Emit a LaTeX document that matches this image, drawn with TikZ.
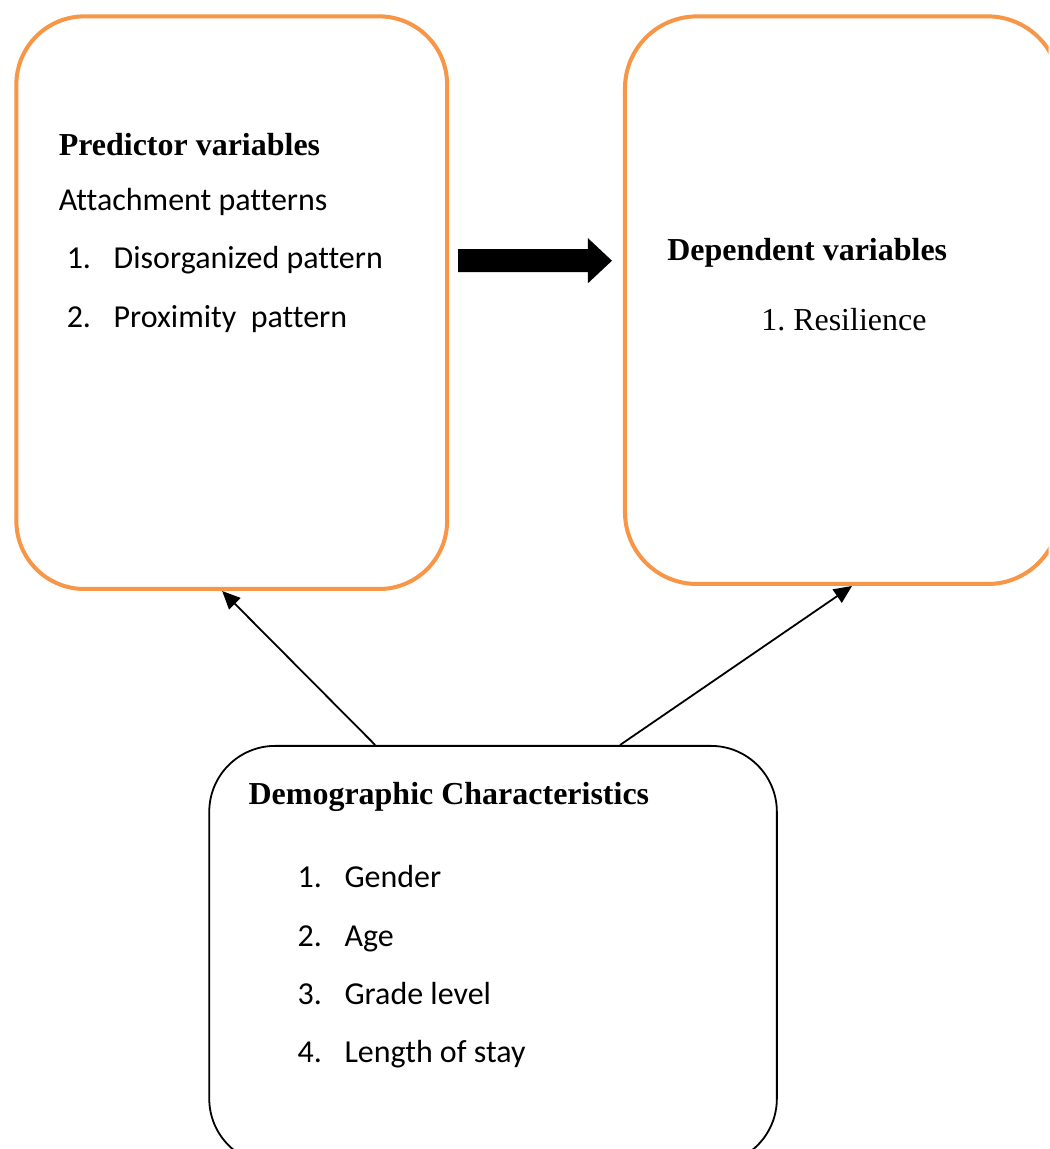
\documentclass[tikz,border=0pt]{standalone}
\usepackage{fontspec}
\usepackage{xcolor}
\setmainfont{Liberation Serif}
\newfontfamily\calibrifont[Ligatures=NoCommon]{Carlito}
\usetikzlibrary{calc,arrows.meta}
\definecolor{boxorange}{HTML}{F79646}
\tikzset{
  orangebox/.style={draw=boxorange, line width=2pt, rounded corners=34pt, inner sep=0pt},
  blackbox/.style={draw=black, line width=0.9pt, rounded corners=33pt, inner sep=0pt},
  headtext/.style={anchor=base west, inner sep=0pt, font=\fontsize{16}{19.2}\selectfont\bfseries},
  itemtext/.style={anchor=base west, inner sep=0pt, font=\fontsize{16}{19.2}\selectfont\calibrifont},
  linkarrow/.style={draw=black, line width=0.9pt, -{Triangle[length=9pt,width=8pt]}}
}
\newcommand{\listnum}[1]{\makebox[23.5pt][l]{#1}}
\frenchspacing
\begin{document}
\begin{tikzpicture}[scale=1.000000,x=0.5pt,y=-0.5pt]
\filldraw[color=white] (0.000000, 0.000000) rectangle (1049.000000, 1149.000000);
\useasboundingbox (0.000000, 0.000000) rectangle (1049.000000, 1149.000000);
\begin{scope}
\clip (0.000000, 0.000000) rectangle (1049.000000, 1149.000000);
% Drawing boxes
% Box 1: predictor variables
\node[orangebox, minimum width=215.5pt, minimum height=286.5pt] (pred) at (231.500000, 302.500000) {};
% Box 2: dependent variables
\node[orangebox, rounded corners=36pt, minimum width=217.5pt, minimum height=284pt] (dep) at (842.500000, 300.000000) {};
% Box 3: demographic characteristics
\node[blackbox, minimum width=284pt, minimum height=209.5pt] (demo) at (493.000000, 955.500000) {};
\end{scope}
% Done with boxes; drawing texts
\node[headtext] (predhead) at (58.000000, 155.000000) {Predictor variables};
\node[itemtext] (predsub) at (58.000000, 210.000000) {Attachment patterns};
\node[itemtext] (predone) at (66.000000, 268.000000) {\listnum{1.}Disorganized pattern};
\node[itemtext] (predtwo) at (66.000000, 327.000000) {\listnum{2.}Proximity\ \ pattern};
\node[headtext] (dephead) at (667.000000, 260.000000) {Dependent variables};
\node[headtext, font=\fontsize{16}{19.2}\selectfont] (depone) at (761.000000, 330.000000) {1. Resilience};
\node[headtext] (demohead) at (248.000000, 805.000000) {Demographic Characteristics};
\node[itemtext] (demoone) at (297.000000, 888.000000) {\listnum{1.}Gender};
\node[itemtext] (demotwo) at (297.000000, 947.000000) {\listnum{2.}Age};
\node[itemtext] (demothree) at (297.000000, 1005.000000) {\listnum{3.}Grade level};
\node[itemtext] (demofour) at (297.000000, 1063.000000) {\listnum{4.}Length of stay};
% Done with texts; drawing arrows
% Arrow 1: block arrow from predictor to dependent
\fill[black] (458.000000, 249.000000) -- (588.000000, 249.000000) -- (588.000000, 238.000000) -- (612.000000, 260.500000) -- (588.000000, 283.000000) -- (588.000000, 272.000000) -- (458.000000, 272.000000) -- cycle;
% Arrow 2: demographic to predictor
\draw[linkarrow] ($(demo.north west)!0.293!(demo.north east)$) -- ($(pred.south west)!0.478!(pred.south east)$);
% Arrow 3: demographic to dependent
\draw[linkarrow] ($(demo.north west)!0.723!(demo.north east)$) -- ($(dep.south west)!0.522!(dep.south east)$);
% Done with arrows
\end{tikzpicture}
\end{document}
